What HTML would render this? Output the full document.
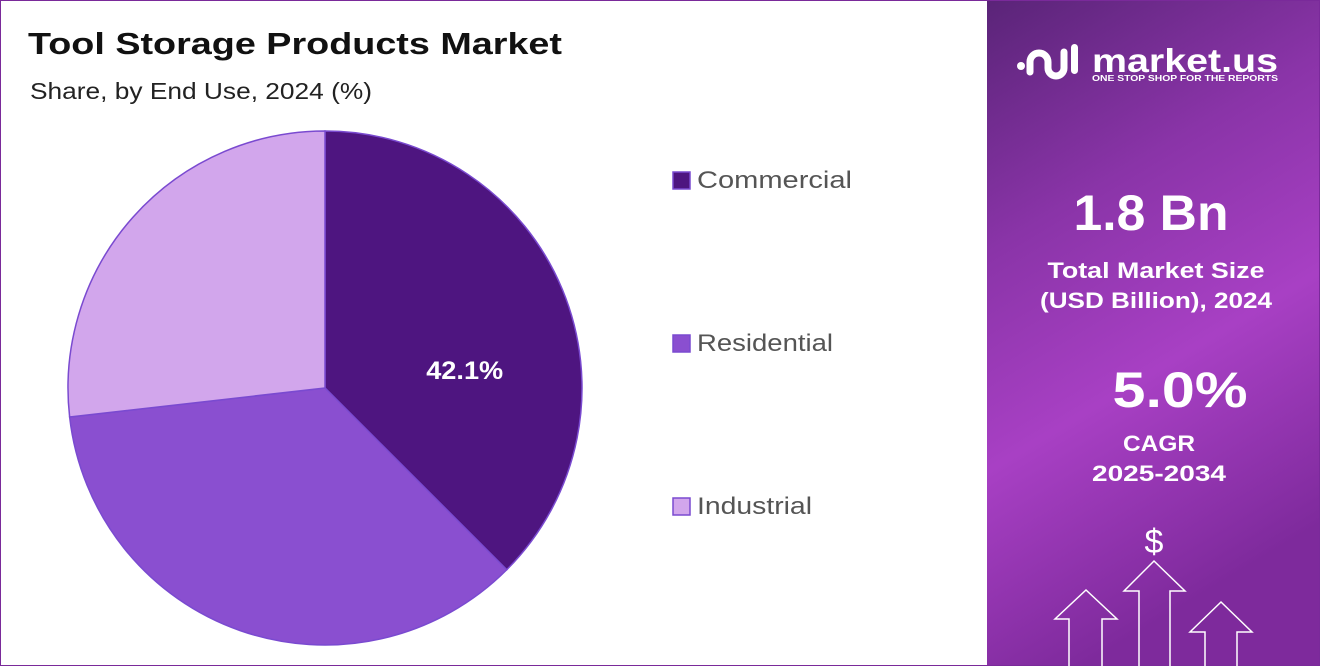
<!DOCTYPE html>
<html><head><meta charset="utf-8"><style>
body{margin:0;width:1320px;height:666px;overflow:hidden;background:#fff;font-family:"Liberation Sans",sans-serif;}
#frame{position:absolute;left:0;top:0;width:1318px;height:664px;border:1px solid #7a2a9a;}
</style></head><body>
<div id="frame"></div>
<svg width="1320" height="666" style="position:absolute;left:0;top:0">
<defs>
<linearGradient id="bg" x1="0" y1="0" x2="0.3" y2="1">
<stop offset="0" stop-color="#5a2478"/><stop offset="0.35" stop-color="#8a34a8"/><stop offset="0.65" stop-color="#a840c4"/><stop offset="1" stop-color="#7e2a9c"/></linearGradient>
</defs>
<text x="28" y="54" font-size="31" font-weight="bold" fill="#111" textLength="534" lengthAdjust="spacingAndGlyphs">Tool Storage Products Market</text>
<text x="30" y="99" font-size="23" fill="#222" textLength="342" lengthAdjust="spacingAndGlyphs">Share, by End Use, 2024 (%)</text>
<g id="pie"></g>
<g id="legend"></g>
<rect x="987" y="1" width="332" height="664" fill="url(#bg)"/>
<g fill="#fff">
<circle cx="1021" cy="66" r="4"/>
<path d="M1030 72 v-10 a9 9 0 0 1 18 0 v6 a8 8 0 0 0 16 0 v-16" stroke="#fff" stroke-width="7" fill="none" stroke-linecap="round"/>
<rect x="1071" y="44" width="7" height="30" rx="3.5"/>
<text x="1092" y="72" font-size="33" font-weight="bold" textLength="186" lengthAdjust="spacingAndGlyphs">market.us</text>
<text x="1092" y="81" font-size="8" font-weight="bold" textLength="186" lengthAdjust="spacingAndGlyphs">ONE STOP SHOP FOR THE REPORTS</text>
</g>
<g fill="#fff" font-weight="bold" text-anchor="middle">
<text x="1151" y="230" font-size="50" textLength="155" lengthAdjust="spacingAndGlyphs">1.8 Bn</text>
<text x="1156" y="278" font-size="22" textLength="217" lengthAdjust="spacingAndGlyphs">Total Market Size</text>
<text x="1156" y="308" font-size="22" textLength="232" lengthAdjust="spacingAndGlyphs">(USD Billion), 2024</text>
<text x="1180" y="407" font-size="50" textLength="135" lengthAdjust="spacingAndGlyphs">5.0%</text>
<text x="1159" y="451" font-size="22" textLength="72" lengthAdjust="spacingAndGlyphs">CAGR</text>
<text x="1159" y="481" font-size="22" textLength="134" lengthAdjust="spacingAndGlyphs">2025-2034</text>
<text x="1154" y="553" font-size="34" font-weight="normal">$</text>
</g>
<g fill="none" stroke="#fff" stroke-width="1.5">
<path d="M1069 666 V619 H1055 L1086 590 L1117 619 H1102 V666"/>
<path d="M1139 666 V591 H1124 L1154 561 L1185 591 H1170 V666"/>
<path d="M1205 666 V632 H1190 L1221 602 L1252 632 H1237 V666"/>
</g>
</svg>
<script>
const categories=["Commercial","Residential","Industrial"];
const shares=[37.5,35.7,26.8];
const printedLabels=["42.1%","",""];
const colors=["#4e1580","#8a4fd0","#d2a6ec"];
const ns="http://www.w3.org/2000/svg";
const cx=325,cy=388,r=257;
function pt(frac){const a=frac*2*Math.PI;return [cx+r*Math.sin(a),cy-r*Math.cos(a)];}
const total=shares.reduce((a,b)=>a+b,0);
const pie=document.getElementById('pie');
let acc=0;
shares.forEach((v,i)=>{
 const s=acc/total,e=(acc+v)/total;acc+=v;
 const [x1,y1]=pt(s),[x2,y2]=pt(e);
 const p=document.createElementNS(ns,'path');
 p.setAttribute('d',`M${cx} ${cy} L${x1} ${y1} A${r} ${r} 0 ${e-s>0.5?1:0} 1 ${x2} ${y2} Z`);
 p.setAttribute('fill',colors[i]);p.setAttribute('stroke','#7a4ad0');p.setAttribute('stroke-width','1.5');
 
 
 pie.appendChild(p);
 if(printedLabels[i]){
  const m=(s+e)/2*2*Math.PI;
  const t=document.createElementNS(ns,'text');
  t.setAttribute('x',cx+r*0.58*Math.sin(m)+2);t.setAttribute('y',cy-r*0.58*Math.cos(m)+48);
  t.setAttribute('text-anchor','middle');t.setAttribute('fill','#fff');t.setAttribute('font-size','25');t.setAttribute('font-weight','bold');
  t.setAttribute('textLength','77');t.setAttribute('lengthAdjust','spacingAndGlyphs');
  t.textContent=printedLabels[i];
  
  
  pie.appendChild(t);
 }
});
const lens=[155,136,115];
const lg=document.getElementById('legend');
categories.forEach((c,i)=>{
 const y=180+i*163;
 const g=document.createElementNS(ns,'g');
 
 
 const rc=document.createElementNS(ns,'rect');
 rc.setAttribute('x',673);rc.setAttribute('y',y-8);rc.setAttribute('width',17);rc.setAttribute('height',17);
 rc.setAttribute('fill',colors[i]);rc.setAttribute('stroke','#7a4ad0');rc.setAttribute('stroke-width','1.5');
 const t=document.createElementNS(ns,'text');
 t.setAttribute('x',697);t.setAttribute('y',y+8);t.setAttribute('font-size','24');t.setAttribute('fill','#555');
 t.setAttribute('textLength',lens[i]);t.setAttribute('lengthAdjust','spacingAndGlyphs');
 t.textContent=c;
 g.appendChild(rc);g.appendChild(t);lg.appendChild(g);
});
</script>
</body></html>
